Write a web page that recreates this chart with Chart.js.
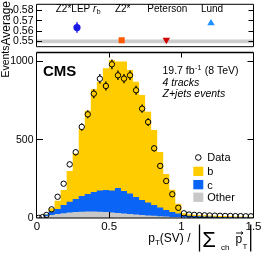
<!DOCTYPE html>
<html>
<head>
<meta charset="utf-8">
<script src="https://cdn.jsdelivr.net/npm/chart.js@4.4.0/dist/chart.umd.min.js"></script>
<style>
html, body { margin: 0; padding: 0; background: #fff; width: 266px; height: 255px; overflow: hidden; }
#top { position: absolute; left: 0; top: 0; }
#main { position: absolute; left: 0; top: 40px; }
</style>
</head>
<body>
<canvas id="top" width="266" height="51"></canvas>
<canvas id="main" width="266" height="215"></canvas>
<script>
// bin edges of the histogram (variable width)
const binEdges = [0, 0.025, 0.05, 0.08, 0.1218, 0.1636, 0.2055, 0.2473, 0.2891, 0.3309,
  0.3727, 0.4145, 0.4564, 0.4982, 0.54, 0.5818, 0.6236, 0.6655, 0.7073, 0.7491,
  0.7909, 0.8327, 0.8745, 0.9164, 0.9582, 1.0, 1.0357, 1.0714, 1.1071, 1.1429,
  1.1786, 1.2143, 1.25, 1.2857, 1.3214, 1.3571, 1.3929, 1.4286, 1.4643, 1.5];

const dataEvents = [1, 5, 19, 55, 135, 218, 341, 418, 579, 659, 790, 885, 839, 977, 907, 886, 907,
  812, 695, 610, 443, 331, 235, 151, 65, 30, 22, 20, 18, 17, 16, 15, 14, 13, 13, 12, 12, 11, 11];
const mcB = [0, 0, 2, 21, 53, 95, 195, 289, 425, 529, 653, 691, 774, 829, 803, 822, 785,
  732, 668, 577, 476, 353, 229, 142, 61, 14, 10, 9, 8, 7, 7, 6, 6, 6, 5, 5, 5, 4, 4];
const mcC = [1, 3, 10, 22, 32, 53, 69, 83, 100, 112, 124, 135, 140, 140, 159, 143, 130,
  112, 95, 83, 69, 56, 42, 31, 23, 13, 11, 9, 9, 8, 7, 6, 5, 5, 5, 4, 4, 3, 3];
const mcOther = [2, 4, 12, 19, 25, 30, 35, 38, 40, 41, 41, 40, 38, 35, 32, 29, 26,
  22, 19, 16, 14, 11, 9, 7, 6, 3, 3, 3, 2, 2, 2, 2, 2, 1, 1, 1, 1, 1, 1];

const xTicks = [0, 0.5, 1, 1.5];
const yTicks = [0, 500, 1000];

// upper panel: average of the ratio for each fragmentation model
const modelNames = ['Z2*LEP r_b', 'Z2*', 'Peterson', 'Lund'];
const modelAvg = [0.5629, 0.5505, 0.5508, 0.5671];
const modelErr = [0.005, 0, 0, 0];
const dataAvg = 0.5495;
const dataAvgErr = 0.0018;
const avgTicks = [0.55, 0.56, 0.57, 0.58];

const FONT = '"Liberation Sans", Arial, Helvetica, sans-serif';

function txt(ctx, s, x, y, size, style) {
  ctx.font = (style || '') + ' ' + size + 'px ' + FONT;
  ctx.textBaseline = 'alphabetic';
  ctx.fillStyle = '#000';
  ctx.fillText(s, x, y);
  return ctx.measureText(s).width;
}

function stepPoints(vals) {
  const pts = vals.map((v, i) => ({ x: binEdges[i], y: v }));
  pts.push({ x: binEdges[vals.length], y: vals[vals.length - 1] });
  return pts;
}

const stackOther = mcOther.slice();
const stackC = mcOther.map((v, i) => v + mcC[i]);
const stackB = stackC.map((v, i) => v + mcB[i]);
const binCenters = dataEvents.map((_, i) => (binEdges[i] + binEdges[i + 1]) / 2);

function frame(ctx, a, topWidth) {
  ctx.save();
  ctx.strokeStyle = '#000';
  ctx.lineWidth = 1;
  ctx.beginPath();
  ctx.moveTo(a.left - 0.5, a.top);
  ctx.lineTo(a.left - 0.5, a.bottom);
  ctx.lineTo(a.right, a.bottom);
  ctx.lineTo(a.right, a.top);
  ctx.stroke();
  ctx.lineWidth = topWidth;
  ctx.beginPath();
  ctx.moveTo(a.left - 0.5, a.top);
  ctx.lineTo(a.right, a.top);
  ctx.stroke();
  ctx.restore();
}

// y tick labels, right aligned next to the axis
function yLabels(ctx, scale, ticks, fmt, size) {
  ctx.save();
  ctx.font = size + 'px ' + FONT;
  ctx.fillStyle = '#000';
  ctx.textAlign = 'right';
  ctx.textBaseline = 'middle';
  ticks.forEach(v => ctx.fillText(fmt(v), scale.right - 3.5, scale.getPixelForValue(v) + 0.5));
  ctx.restore();
}

// ---------- upper panel ----------
const topPlugin = {
  id: 'topPanel',
  beforeDatasetsDraw(chart) {
    const ctx = chart.ctx, a = chart.chartArea;
    const x = chart.scales.x, y = chart.scales.y;
    ctx.save();
    ctx.fillStyle = '#cccccc';
    const y1 = y.getPixelForValue(dataAvg + dataAvgErr);
    const y2 = y.getPixelForValue(dataAvg - dataAvgErr);
    ctx.fillRect(a.left, y1, a.right - a.left, y2 - y1);
    ctx.lineWidth = 1.5;
    modelErr.forEach((e, i) => {
      if (!e) return;
      ctx.strokeStyle = '#1a1ae6';
      ctx.beginPath();
      ctx.moveTo(x.getPixelForValue(i), y.getPixelForValue(modelAvg[i] + e));
      ctx.lineTo(x.getPixelForValue(i), y.getPixelForValue(modelAvg[i] - e));
      ctx.stroke();
    });
    ctx.restore();
  },
  afterDraw(chart) {
    const ctx = chart.ctx, a = chart.chartArea;
    const x = chart.scales.x, y = chart.scales.y;
    frame(ctx, a, 1);
    ctx.save();
    ctx.strokeStyle = '#000';
    ctx.lineWidth = 1;
    avgTicks.forEach(v => {
      const py = Math.round(y.getPixelForValue(v)) + 0.5;
      ctx.beginPath();
      ctx.moveTo(a.left, py); ctx.lineTo(a.left + 5, py);
      ctx.moveTo(a.right, py); ctx.lineTo(a.right - 5, py);
      ctx.stroke();
    });
    ctx.restore();
    yLabels(ctx, y, avgTicks, v => v.toFixed(2), 10.5);
    // model labels
    modelNames.forEach((name, i) => {
      const cx = x.getPixelForValue(i) + 1;
      ctx.textAlign = 'left';
      const k = name.indexOf('_');
      if (k < 0) {
        ctx.font = '10px ' + FONT;
        const w = ctx.measureText(name).width;
        txt(ctx, name, cx - w / 2, 11.7, 10);
      } else {
        const sp = name.lastIndexOf(' ', k);
        const main = name.slice(0, sp + 1), ital = name.slice(sp + 1, k), sub = name.slice(k + 1);
        ctx.font = '10px ' + FONT;
        const w1 = ctx.measureText(main).width;
        ctx.font = 'italic 10px ' + FONT;
        const w2 = ctx.measureText(ital).width;
        ctx.font = '7px ' + FONT;
        const w3 = ctx.measureText(sub).width;
        let px = cx - (w1 + w2 + w3) / 2;
        px += txt(ctx, main, px, 11.7, 10);
        px += txt(ctx, ital, px, 11.7, 10, 'italic') + 0.5;
        txt(ctx, sub, px, 14, 7);
      }
    });
    // y title
    ctx.save();
    ctx.translate(9.5, 1);
    ctx.rotate(-Math.PI / 2);
    ctx.textAlign = 'right';
    txt(ctx, 'Average', 0, 0, 12);
    ctx.restore();
  }
};

new Chart(document.getElementById('top'), {
  type: 'line',
  data: {
    datasets: [{
      data: modelAvg.map((v, i) => ({ x: i, y: v })),
      showLine: false,
      pointStyle: ['circle', 'rect', 'triangle', 'triangle'],
      pointRotation: [0, 0, 180, 0],
      pointRadius: [3.6, 4.3, 4.3, 4.3],
      pointBorderWidth: 0,
      pointBackgroundColor: ['#1a1ae6', '#ff5a00', '#d40000', '#1e90ff'],
      pointBorderColor: ['#1a1ae6', '#ff5a00', '#d40000', '#1e90ff']
    }]
  },
  options: {
    responsive: false,
    animation: false,
    devicePixelRatio: 1,
    layout: { padding: { top: 2, bottom: 1, left: 0, right: 12.5 } },
    plugins: { legend: { display: false }, tooltip: { enabled: false } },
    scales: {
      x: { type: 'linear', min: -0.895, max: 3.951, display: false },
      y: {
        min: 0.5443, max: 0.5854,
        afterBuildTicks: s => { s.ticks = avgTicks.map(v => ({ value: v })); },
        afterFit: s => { s.width = 37; },
        grid: { display: false, drawTicks: false },
        border: { display: false },
        ticks: { display: false }
      }
    }
  },
  plugins: [topPlugin]
});

// ---------- main panel ----------
const oy = 40; // page offset of the main canvas
const mainPlugin = {
  id: 'mainPanel',
  afterDatasetsDraw(chart) {
    const ctx = chart.ctx;
    const meta = chart.getDatasetMeta(0);
    const y = chart.scales.y;
    ctx.save();
    ctx.strokeStyle = '#000';
    ctx.lineWidth = 1.3;
    const r = 2.7;
    meta.data.forEach((pt, i) => {
      const v = dataEvents[i];
      const e = Math.sqrt(v);
      const yt = y.getPixelForValue(v + e), yb = y.getPixelForValue(v - e);
      ctx.beginPath();
      if (yt < pt.y - r) { ctx.moveTo(pt.x, yt); ctx.lineTo(pt.x, pt.y - r); }
      if (yb > pt.y + r) { ctx.moveTo(pt.x, pt.y + r); ctx.lineTo(pt.x, yb); }
      ctx.stroke();
    });
    ctx.restore();
  },
  afterDraw(chart) {
    const ctx = chart.ctx, a = chart.chartArea;
    const x = chart.scales.x, y = chart.scales.y;
    frame(ctx, a, 1.5);
    ctx.save();
    ctx.strokeStyle = '#000';
    ctx.lineWidth = 1;
    yTicks.forEach(v => {
      if (v === 0) return;
      const py = Math.round(y.getPixelForValue(v)) + 0.5;
      ctx.beginPath();
      ctx.moveTo(a.left, py); ctx.lineTo(a.left + 6, py);
      ctx.moveTo(a.right, py); ctx.lineTo(a.right - 6, py);
      ctx.stroke();
    });
    xTicks.forEach(v => {
      if (v === 0 || v === 1.5) return;
      const px = Math.round(x.getPixelForValue(v)) + 0.5;
      ctx.beginPath();
      ctx.moveTo(px, a.bottom); ctx.lineTo(px, a.bottom - 6);
      ctx.moveTo(px, a.top); ctx.lineTo(px, a.top + 5);
      ctx.stroke();
    });
    ctx.restore();
    yLabels(ctx, y, yTicks, v => String(v), 10.5);

    ctx.textAlign = 'left';
    txt(ctx, 'CMS', 43, 76 - oy, 15, 'bold');
    let px = 162.5;
    px += txt(ctx, '19.7 fb', px, 73.5 - oy, 10.5);
    px += txt(ctx, '-1', px + 0.5, 69.5 - oy, 7) + 1;
    txt(ctx, ' (8 TeV)', px, 73.5 - oy, 10.5);
    txt(ctx, '4 tracks', 162.5, 85.5 - oy, 10.5, 'italic');
    txt(ctx, 'Z+jets events', 162.5, 97 - oy, 10.5, 'italic');

    // legend
    const ds = chart.data.datasets;
    const rows = [
      { d: ds[0], cy: 157.5 },
      { d: ds[3], cy: 171.3 },
      { d: ds[2], cy: 184.6 },
      { d: ds[1], cy: 197.2 }
    ];
    rows.forEach((row, i) => {
      const cy = row.cy - oy;
      if (i === 0) {
        ctx.beginPath();
        ctx.strokeStyle = '#000';
        ctx.lineWidth = 1;
        ctx.arc(198.3, cy, 2.8, 0, Math.PI * 2);
        ctx.stroke();
      } else {
        ctx.fillStyle = row.d.backgroundColor;
        ctx.fillRect(193.3, cy - 4.6, 10, 9.3);
      }
      txt(ctx, row.d.label, 207.3, cy + 3.9, 11);
    });

    // x title
    px = 148.3;
    const by = 242 - oy;
    px += txt(ctx, 'p', px, by, 12);
    px += txt(ctx, 'T', px, by + 3, 8);
    txt(ctx, '(SV) /', px, by, 12);
    ctx.strokeStyle = '#000';
    ctx.lineWidth = 1.3;
    ctx.beginPath();
    ctx.moveTo(199.5, 224.5 - oy); ctx.lineTo(199.5, 251.5 - oy);
    ctx.moveTo(250.7, 224.5 - oy); ctx.lineTo(250.7, 251.5 - oy);
    ctx.stroke();
    txt(ctx, '\u03A3', 202.3, 246.8 - oy, 22);
    txt(ctx, 'ch', 221, 250 - oy, 8);
    txt(ctx, 'p', 235.5, 243 - oy, 12);
    txt(ctx, 'T', 242.5, 249 - oy, 8);
    ctx.lineWidth = 0.9;
    ctx.beginPath();
    ctx.moveTo(236, 233 - oy); ctx.lineTo(243, 233 - oy);
    ctx.moveTo(241, 231.5 - oy); ctx.lineTo(243, 233 - oy); ctx.lineTo(241, 234.5 - oy);
    ctx.stroke();

    // y title
    ctx.save();
    ctx.translate(8.5, 45.5 - oy);
    ctx.rotate(-Math.PI / 2);
    ctx.textAlign = 'right';
    txt(ctx, 'Events', 0, 0, 10.5);
    ctx.restore();
  }
};

function area(label, vals, color, order) {
  return {
    label: label,
    data: stepPoints(vals),
    stepped: true,
    fill: 'origin',
    backgroundColor: color,
    borderColor: 'rgba(0,0,0,0)',
    borderWidth: 0,
    pointRadius: 0,
    order: order
  };
}

new Chart(document.getElementById('main'), {
  type: 'line',
  data: {
    datasets: [
      {
        label: 'Data',
        data: binCenters.map((x, i) => ({ x: x, y: dataEvents[i] })),
        showLine: false,
        pointRadius: 2.7,
        pointBorderWidth: 1,
        pointBorderColor: '#000',
        pointBackgroundColor: 'rgba(0,0,0,0)',
        order: 0
      },
      area('Other', stackOther, '#c8c8c8', 1),
      area('c', stackC, '#0a64f5', 2),
      area('b', stackB, '#ffcc00', 3)
    ]
  },
  options: {
    responsive: false,
    animation: false,
    devicePixelRatio: 1,
    layout: { padding: { top: 12.5, bottom: 0, left: 0, right: 12.5 } },
    plugins: { legend: { display: false }, tooltip: { enabled: false } },
    scales: {
      x: {
        type: 'linear', min: 0, max: 1.5,
        afterBuildTicks: s => { s.ticks = xTicks.map(v => ({ value: v })); },
        afterFit: s => { s.height = 37; },
        grid: { display: false, drawTicks: false },
        border: { display: false },
        ticks: { padding: 2, maxRotation: 0, autoSkip: false, color: '#000',
          font: { family: FONT, size: 11.5 }, callback: v => String(v) }
      },
      y: {
        min: 0, max: 1052,
        afterBuildTicks: s => { s.ticks = yTicks.map(v => ({ value: v })); },
        afterFit: s => { s.width = 37; },
        grid: { display: false, drawTicks: false },
        border: { display: false },
        ticks: { display: false }
      }
    }
  },
  plugins: [mainPlugin]
});
</script>
</body>
</html>
